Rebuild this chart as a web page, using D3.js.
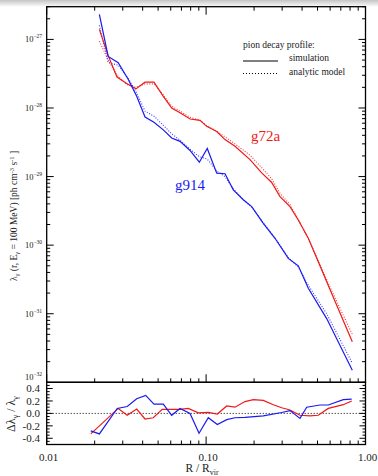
<!DOCTYPE html>
<html>
<head>
<meta charset="utf-8">
<script src="https://cdn.jsdelivr.net/npm/d3@7"></script>
<style>
  body { margin: 0; background: #fff; }
  svg { display: block; font-family: "Liberation Serif", "DejaVu Serif", serif; }
</style>
</head>
<body>
<svg width="378" height="476"></svg>
<script>
// radii (R / Rvir) and emissivity
var rRed = [0.0214, 0.0243, 0.0276, 0.0318, 0.0363, 0.0414, 0.0471, 0.0539, 0.0608, 0.0686, 0.0793, 0.0916, 0.1009, 0.1166, 0.1314, 0.1518, 0.1885, 0.2233, 0.2579, 0.2908, 0.3360, 0.3788, 0.4377, 0.5988, 0.8264];
var simRed = [1.40e-27, 5.8e-28, 2.83e-28, 2.28e-28, 1.9e-28, 2.38e-28, 2.38e-28, 1.48e-28, 1.0e-28, 8.5e-29, 6.9e-29, 6.6e-29, 5.4e-29, 4.55e-29, 3.46e-29, 2.76e-29, 1.77e-29, 1.13e-29, 8.2e-30, 5.1e-30, 3.65e-30, 2.33e-30, 1.26e-30, 2.26e-31, 3.9e-32];
var modelRed = [9.4e-28, 5.0e-28, 3.0e-28, 2.2e-28, 2.0e-28, 2.25e-28, 2.25e-28, 1.55e-28, 1.06e-28, 9.0e-29, 7.3e-29, 6.6e-29, 5.5e-29, 4.6e-29, 3.8e-29, 3.0e-29, 2.05e-29, 1.35e-29, 9.3e-30, 5.7e-30, 3.9e-30, 2.35e-30, 1.25e-30, 2.45e-31, 5.0e-32];

var rBlue = [0.0214, 0.0243, 0.0281, 0.0325, 0.0367, 0.0414, 0.0471, 0.0539, 0.0608, 0.0686, 0.0793, 0.0907, 0.1017, 0.1166, 0.1314, 0.1481, 0.1711, 0.1933, 0.2285, 0.2705, 0.3279, 0.3788, 0.4377, 0.5708, 0.8264];
var simBlue = [2.32e-27, 5.65e-28, 4.57e-28, 2.6e-28, 1.48e-28, 7.4e-29, 6.2e-29, 4.8e-29, 3.66e-29, 3.26e-29, 2.4e-29, 1.62e-29, 2.57e-29, 1.12e-29, 1.1e-29, 6.4e-30, 4.6e-30, 3.65e-30, 2.08e-30, 1.26e-30, 6.4e-31, 5.0e-31, 2.35e-31, 8.5e-32, 1.5e-32];
var modelBlue = [1.6e-27, 4.6e-28, 4.2e-28, 2.7e-28, 1.65e-28, 9.0e-29, 7.6e-29, 5.6e-29, 4.2e-29, 3.4e-29, 2.5e-29, 1.95e-29, 1.8e-29, 1.2e-29, 1.0e-29, 6.6e-30, 4.6e-30, 3.6e-30, 2.1e-30, 1.28e-30, 6.6e-31, 4.8e-31, 2.6e-31, 1.0e-31, 1.9e-32];

// relative difference panel
var rRatioRed = [0.0189, 0.0281, 0.0320, 0.0367, 0.0414, 0.0466, 0.0531, 0.0608, 0.0686, 0.0773, 0.0894, 0.1032, 0.1176, 0.1347, 0.1518, 0.1754, 0.1978, 0.2285, 0.2640, 0.2981, 0.3360, 0.3882, 0.4485, 0.5057, 0.5842, 0.7256, 0.8192];
var ratioRed = [-0.33, 0.08, -0.03, 0.07, -0.09, -0.07, 0.065, 0.065, 0.065, 0.08, 0.01, 0.015, -0.01, 0.12, 0.10, 0.19, 0.22, 0.21, 0.14, 0.09, 0.055, -0.03, -0.04, -0.03, 0.08, 0.14, 0.20];
var rRatioBlue = [0.0189, 0.0214, 0.0277, 0.0320, 0.0367, 0.0418, 0.0471, 0.0539, 0.0608, 0.0686, 0.0793, 0.0903, 0.1032, 0.1176, 0.1347, 0.1518, 0.1754, 0.2285, 0.2981, 0.3360, 0.3882, 0.4277, 0.5183, 0.5842, 0.7256, 0.8192];
var ratioBlue = [-0.28, -0.33, 0.08, 0.11, 0.235, 0.29, 0.15, 0.15, -0.03, 0.08, 0.0, -0.32, -0.07, -0.18, -0.10, -0.07, -0.065, -0.04, 0.015, 0.045, -0.08, 0.10, 0.135, 0.135, 0.22, 0.23];

var xTickLabels = ["0.01", "0.10", "1.00"];
var topDecades = [1e-27, 1e-28, 1e-29, 1e-30, 1e-31, 1e-32];
var ratioTickValues = [0.4, 0.2, 0.0, -0.2, -0.4];

var RED = "#f01818", BLUE = "#1a1af0";

var svg = d3.select("svg");

// faint shading along the very top of the image
var defs = svg.append("defs");
var grad = defs.append("linearGradient").attr("id", "topshade").attr("x1", 0).attr("y1", 0).attr("x2", 0).attr("y2", 1);
grad.append("stop").attr("offset", "0%").attr("stop-color", "#c4c4c4");
grad.append("stop").attr("offset", "100%").attr("stop-color", "#ffffff");
svg.append("rect").attr("x", 0).attr("y", 0).attr("width", 378).attr("height", 7).attr("fill", "url(#topshade)");

var padL = 46.7, padR = 365.5, padT = 6.7, padMid = 382.3, padB = 444.5;

var x = d3.scaleLog().domain([0.01, 1]).range([padL, padR]);
var y = d3.scaleLog().domain([1e-32, 3e-27]).range([padMid, padT]);
var y2 = d3.scaleLinear().domain([-0.5, 0.5]).range([padB, padMid]);

function pts(rs, vs) {
    return rs.map(function (r, i) { return [r, vs[i]]; });
}

var lineTop = d3.line().x(function (d) { return x(d[0]); }).y(function (d) { return y(d[1]); });
var lineBot = d3.line().x(function (d) { return x(d[0]); }).y(function (d) { return y2(d[1]); });

// ---- upper panel curves
var g = svg.append("g");
g.append("path").datum(pts(rRed, modelRed)).attr("d", lineTop)
    .attr("fill", "none").attr("stroke", RED).attr("stroke-width", 1.1).attr("stroke-dasharray", "1,1.6").attr("opacity", 0.85);
g.append("path").datum(pts(rBlue, modelBlue)).attr("d", lineTop)
    .attr("fill", "none").attr("stroke", BLUE).attr("stroke-width", 1.1).attr("stroke-dasharray", "1,1.6").attr("opacity", 0.85);
g.append("path").datum(pts(rRed, simRed)).attr("d", lineTop)
    .attr("fill", "none").attr("stroke", RED).attr("stroke-width", 1.2);
g.append("path").datum(pts(rBlue, simBlue)).attr("d", lineTop)
    .attr("fill", "none").attr("stroke", BLUE).attr("stroke-width", 1.2);

// ---- lower panel
var g2 = svg.append("g");
g2.append("line").attr("x1", padL).attr("x2", padR).attr("y1", y2(0)).attr("y2", y2(0))
    .attr("stroke", "#000").attr("stroke-width", 1).attr("stroke-dasharray", "1,2");
g2.append("path").datum(pts(rRatioRed, ratioRed)).attr("d", lineBot)
    .attr("fill", "none").attr("stroke", RED).attr("stroke-width", 1.2);
g2.append("path").datum(pts(rRatioBlue, ratioBlue)).attr("d", lineBot)
    .attr("fill", "none").attr("stroke", BLUE).attr("stroke-width", 1.2);

// ---- frames
var ax = svg.append("g").attr("stroke", "#000").attr("fill", "none");
ax.append("rect").attr("x", padL).attr("y", padT).attr("width", padR - padL).attr("height", padMid - padT).attr("stroke-width", 1.3);
ax.append("rect").attr("x", padL).attr("y", padMid).attr("width", padR - padL).attr("height", padB - padMid).attr("stroke-width", 1.3);

// x ticks (log minor)
var xTicks = x.ticks();
xTicks.forEach(function (t) {
    var major = Math.abs(Math.log10(t) - Math.round(Math.log10(t))) < 1e-6;
    var len = major ? 8 : 4;
    var px = x(t);
    ax.append("line").attr("x1", px).attr("x2", px).attr("y1", padT).attr("y2", padT + len).attr("stroke-width", 1);
    ax.append("line").attr("x1", px).attr("x2", px).attr("y1", padMid).attr("y2", padMid - len).attr("stroke-width", 1);
    ax.append("line").attr("x1", px).attr("x2", px).attr("y1", padB).attr("y2", padB - len).attr("stroke-width", 1);
});

// y ticks upper panel
var yTicks = y.ticks();
yTicks.forEach(function (t) {
    var major = Math.abs(Math.log10(t) - Math.round(Math.log10(t))) < 1e-6;
    var len = major ? 7 : 3.5;
    var py = y(t);
    ax.append("line").attr("x1", padL).attr("x2", padL + len).attr("y1", py).attr("y2", py).attr("stroke-width", 1);
    ax.append("line").attr("x1", padR).attr("x2", padR - len).attr("y1", py).attr("y2", py).attr("stroke-width", 1);
});

// y ticks lower panel
d3.range(-10, 11).forEach(function (i) {
    var v = i * 0.05;
    var major = i % 4 === 0 && i !== 10 && i !== -10;
    var len = major ? 6 : 3;
    var py = y2(v);
    ax.append("line").attr("x1", padL).attr("x2", padL + len).attr("y1", py).attr("y2", py).attr("stroke-width", 1);
    ax.append("line").attr("x1", padR).attr("x2", padR - len).attr("y1", py).attr("y2", py).attr("stroke-width", 1);
});

// ---- tick labels
var labels = svg.append("g").attr("fill", "#222");

topDecades.forEach(function (t) {
    var e = Math.round(Math.log10(t));
    var ty = y(t) + 3;
    if (e === -32) ty = y(t) - 2;
    var txt = labels.append("text").attr("x", 42).attr("y", ty).attr("text-anchor", "end").attr("font-size", 8.5);
    txt.append("tspan").text("10");
    txt.append("tspan").attr("dy", -4).attr("font-size", 5.5).text("\u2212" + Math.abs(e));
});

ratioTickValues.forEach(function (v) {
    labels.append("text").attr("x", 40).attr("y", y2(v) + 3.8).attr("text-anchor", "end").attr("font-size", 11)
        .text(v < 0 ? "-" + Math.abs(v).toFixed(1) : v.toFixed(1));
});

[0.01, 0.1, 1].forEach(function (v, i) {
    labels.append("text").attr("x", x(v) + 2).attr("y", 461).attr("text-anchor", "middle").attr("font-size", 11)
        .text(xTickLabels[i]);
});

// axis titles
var xt = labels.append("text").attr("x", 202).attr("y", 472).attr("text-anchor", "middle").attr("font-size", 11.5);
xt.append("tspan").text("R / R");
xt.append("tspan").attr("dy", 2.5).attr("font-size", 8).text("vir");

var yt = labels.append("text").attr("transform", "translate(17,216) rotate(-90)").attr("text-anchor", "middle").attr("font-size", 9.5);
yt.append("tspan").text("\u03bb");
yt.append("tspan").attr("dy", 2).attr("font-size", 6.5).text("\u03b3");
yt.append("tspan").attr("dy", -2).text(" (r, E");
yt.append("tspan").attr("dy", 2).attr("font-size", 6.5).text("\u03b3");
yt.append("tspan").attr("dy", -2).text(" = 100 MeV) [ph cm");
yt.append("tspan").attr("dy", -3.5).attr("font-size", 6.5).text("-3");
yt.append("tspan").attr("dy", 3.5).text(" s");
yt.append("tspan").attr("dy", -3.5).attr("font-size", 6.5).text("-1");
yt.append("tspan").attr("dy", 3.5).text(" ]");

var yt2 = labels.append("text").attr("transform", "translate(15,414) rotate(-90)").attr("text-anchor", "middle").attr("font-size", 12);
yt2.append("tspan").text("\u0394\u03bb");
yt2.append("tspan").attr("dy", 2.5).attr("font-size", 8).text("\u03b3");
yt2.append("tspan").attr("dy", -2.5).text(" / \u03bb");
yt2.append("tspan").attr("dy", 2.5).attr("font-size", 8).text("\u03b3");

// ---- legend
var leg = svg.append("g").attr("font-size", 9.5).attr("fill", "#222");
leg.append("text").attr("x", 243).attr("y", 47.5).text("pion decay profile:");
leg.append("line").attr("x1", 243).attr("x2", 278).attr("y1", 61).attr("y2", 61).attr("stroke", "#000").attr("stroke-width", 1.2);
leg.append("text").attr("x", 289).attr("y", 61).text("simulation");
leg.append("line").attr("x1", 243).attr("x2", 278).attr("y1", 73.5).attr("y2", 73.5).attr("stroke", "#000").attr("stroke-width", 1).attr("stroke-dasharray", "1,2");
leg.append("text").attr("x", 289).attr("y", 75).text("analytic model");

// ---- run names
svg.append("text").attr("x", 251).attr("y", 141).attr("font-size", 15).attr("fill", RED).text("g72a");
svg.append("text").attr("x", 175).attr("y", 190).attr("font-size", 15).attr("fill", BLUE).text("g914");
</script>
</body>
</html>
